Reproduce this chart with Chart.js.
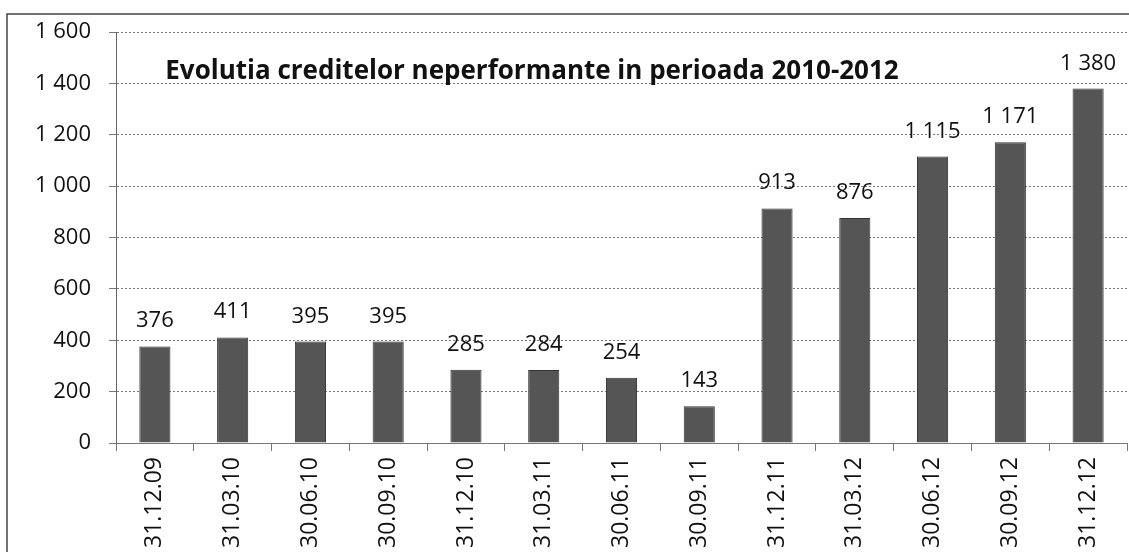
<!DOCTYPE html>
<html>
<head>
<meta charset="utf-8">
<script src="https://cdn.jsdelivr.net/npm/chart.js@4/dist/chart.umd.min.js"></script>
<style>
  html, body { margin: 0; padding: 0; background: #fff; }
  #wrap { width: 1129px; height: 552px; }
</style>
</head>
<body>
<div id="wrap"><canvas id="chart" width="1129" height="552"></canvas></div>
<script>
const chartTitle = 'Evolutia creditelor neperformante in perioada 2010-2012';
const categories = ['31.12.09', '31.03.10', '30.06.10', '30.09.10', '31.12.10', '31.03.11', '30.06.11',
  '30.09.11', '31.12.11', '31.03.12', '30.06.12', '30.09.12', '31.12.12'];
const creditValues = [376, 411, 395, 395, 285, 284, 254, 143, 913, 876, 1115, 1171, 1380];
const yTicks = [0, 200, 400, 600, 800, 1000, 1200, 1400, 1600];

const FONT = "'Open Sans', 'DejaVu Sans', sans-serif";

function fmt(n) {
  return String(n).replace(/\B(?=(\d{3})+(?!\d))/g, ' ');
}

// value above each bar
const valueLabels = {
  id: 'valueLabels',
  afterDatasetsDraw(chart) {
    const ctx = chart.ctx;
    const meta = chart.getDatasetMeta(0);
    ctx.save();
    ctx.font = `22px ${FONT}`;
    ctx.fillStyle = '#111';
    ctx.textAlign = 'center';
    ctx.textBaseline = 'alphabetic';
    meta.data.forEach((bar, i) => {
      ctx.fillText(fmt(creditValues[i]), bar.x, bar.y - 19);
    });
    ctx.restore();
  }
};

// title sits inside the plot, plus the outer frame of the scanned chart
const frameAndTitle = {
  id: 'frameAndTitle',
  beforeDraw(chart) {
    const ctx = chart.ctx;
    ctx.save();
    ctx.strokeStyle = '#444';
    ctx.lineWidth = 1.5;
    ctx.beginPath();
    ctx.moveTo(7, chart.height);
    ctx.lineTo(7, 14);
    ctx.lineTo(chart.width, 14);
    ctx.stroke();
    ctx.restore();
  },
  afterDraw(chart) {
    const ctx = chart.ctx;
    ctx.save();
    ctx.font = `bold 26px ${FONT}`;
    ctx.fillStyle = '#111';
    ctx.textAlign = 'center';
    ctx.textBaseline = 'alphabetic';
    ctx.fillText(chartTitle, 532, 79);
    ctx.restore();
  }
};

new Chart(document.getElementById('chart'), {
  type: 'bar',
  data: {
    labels: categories,
    datasets: [{
      data: creditValues,
      backgroundColor: '#555555',
      borderColor: '#333333',
      borderWidth: 1,
      barPercentage: 0.4,
      categoryPercentage: 1.0
    }]
  },
  options: {
    responsive: false,
    animation: false,
    layout: { padding: { top: 32, right: 2, left: 0, bottom: 0 } },
    plugins: {
      legend: { display: false },
      tooltip: { enabled: false }
    },
    scales: {
      x: {
        grid: { drawOnChartArea: false, tickLength: 8, color: '#777' },
        border: { color: '#777', width: 1 },
        ticks: {
          font: { family: FONT, size: 23 },
          color: '#111',
          minRotation: 90,
          maxRotation: 90,
          padding: 6
        },
        afterFit: scale => { scale.height = 109; }
      },
      y: {
        min: 0,
        max: 1600,
        afterBuildTicks: scale => { scale.ticks = yTicks.map(v => ({ value: v })); },
        grid: { color: '#7a7a7a', tickLength: 7, lineWidth: 1 },
        border: { color: '#666', width: 1, dash: [2, 2] },
        ticks: {
          font: { family: FONT, size: 22 },
          color: '#111',
          padding: 18,
          callback: v => fmt(v)
        },
        afterFit: scale => { scale.width = 116; }
      }
    }
  },
  plugins: [valueLabels, frameAndTitle]
});
</script>
</body>
</html>
